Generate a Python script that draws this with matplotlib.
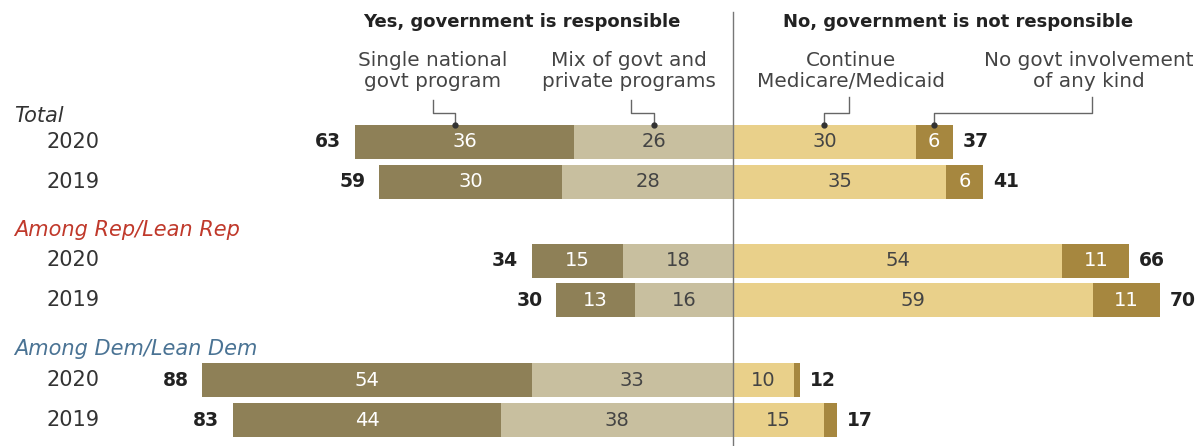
import matplotlib
matplotlib.use("Agg")
import matplotlib.pyplot as plt

# ---- data ----
groups = ["Total", "Among Rep/Lean Rep", "Among Dem/Lean Dem"]
years = ["2020", "2019"]
single_program = [36, 30, 15, 13, 54, 44]
mixed_programs = [26, 28, 18, 16, 33, 38]
continue_medicare = [30, 35, 54, 59, 10, 15]
no_involvement = [6, 6, 11, 11, 1, 2]
net_yes = [63, 59, 34, 30, 88, 83]
net_no = [37, 41, 66, 70, 12, 17]
single_labels = ["36", "30", "15", "13", "54", "44"]
mixed_labels = ["26", "28", "18", "16", "33", "38"]
cont_labels = ["30", "35", "54", "59", "10", "15"]
none_labels = ["6", "6", "11", "11", "", ""]
group_colors = ["#333333", "#c0392b", "#4a7394"]

C_SINGLE = "#8e8057"
C_MIX = "#c8bf9f"
C_CONT = "#e9d08a"
C_NONE = "#a6873f"

plt.rcParams["font.family"] = ["DejaVu Sans"]

fig = plt.figure(figsize=(12.04, 4.46), dpi=100)
ax = fig.add_axes([0, 0, 1, 1])
PX = 6.1
CX = 733
ax.set_xlim(-CX / PX, (1204 - CX) / PX)
ax.set_ylim(446, 0)
ax.axis("off")

row_y = [141.5, 181.5, 260.5, 300, 380, 420]
group_y = [116, 230, 349]
bh = 34

for i, y in enumerate(row_y):
    s, m, c, n = single_program[i], mixed_programs[i], continue_medicare[i], no_involvement[i]
    ax.barh(y, -m, left=0, height=bh, color=C_MIX, lw=0)
    ax.barh(y, -s, left=-m, height=bh, color=C_SINGLE, lw=0)
    ax.barh(y, c, left=0, height=bh, color=C_CONT, lw=0)
    ax.barh(y, n, left=c, height=bh, color=C_NONE, lw=0)
    fs = 14
    ax.text(-m - s / 2, y, single_labels[i], ha="center", va="center", color="white", fontsize=fs)
    ax.text(-m / 2, y, mixed_labels[i], ha="center", va="center", color="#444444", fontsize=fs)
    ax.text(c / 2, y, cont_labels[i], ha="center", va="center", color="#444444", fontsize=fs)
    if none_labels[i]:
        ax.text(c + n / 2, y, none_labels[i], ha="center", va="center", color="white", fontsize=fs)
    ax.text(-(m + s) - 2.2, y, str(net_yes[i]), ha="right", va="center", color="#222222",
            fontsize=13.5, fontweight="bold")
    ax.text(c + n + 1.6, y, str(net_no[i]), ha="left", va="center", color="#222222",
            fontsize=13.5, fontweight="bold")
    ax.text(-CX / PX + 46 / PX, y, years[i % 2], ha="left", va="center", color="#333333", fontsize=15)

# center line (on top of bars)
ax.plot([0, 0], [12, 446], color="#777777", lw=1, zorder=5)

for g, gy, col in zip(groups, group_y, group_colors):
    ax.text(-CX / PX + 14 / PX, gy, g, ha="left", va="center", color=col, fontsize=15, style="italic")

# headers
ax.text((522 - CX) / PX, 22, "Yes, government is responsible", ha="center", va="center",
        fontsize=13, fontweight="bold", color="#222222")
ax.text((958 - CX) / PX, 22, "No, government is not responsible", ha="center", va="center",
        fontsize=13, fontweight="bold", color="#222222")

sub = [("Single national\ngovt program", 433),
       ("Mix of govt and\nprivate programs", 629),
       ("Continue\nMedicare/Medicaid", 851),
       ("No govt involvement\nof any kind", 1089)]
for t, x in sub:
    ax.text((x - CX) / PX, 71, t, ha="center", va="center", fontsize=14.4, color="#444444",
            linespacing=1.15)

# leader lines to first row segments
top = row_y[0] - bh / 2
s0, m0, c0, n0 = single_program[0], mixed_programs[0], continue_medicare[0], no_involvement[0]
leaders = [(433, 100, -m0 - s0 / 2 - 1.5),
           (631, 100, -m0 / 2),
           (849, 97, c0 / 2),
           (1092, 97, c0 + n0 / 2)]
for x, ytop, tx in leaders:
    xs = (x - CX) / PX
    ax.plot([xs, xs, tx, tx], [ytop, 113, 113, top], color="#666666", lw=1)
    ax.plot([tx], [top], marker="o", ms=3.5, color="#333333")

fig.savefig("out.png", dpi=100)
